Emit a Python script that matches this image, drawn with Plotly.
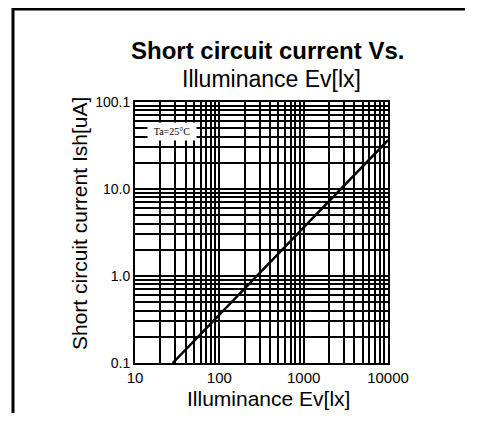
import plotly.graph_objects as go

# Data
illuminance = [28, 100, 1000, 10000]
current = [0.1, 0.36, 3.6, 36.5]

x_tick_vals = [10, 100, 1000, 10000]
x_tick_text = ["10", "100", "1000", "10000"]
y_tick_vals = [0.1, 1, 10, 100]
y_tick_text = ["0.1", "1.0", "10.0", "100.1"]

OFF = 8  # page body margin
W, H = 479 - 2 * OFF, 426 - 2 * OFF - 5
# plot area in reference (page) pixels
PL, PR, PT, PB = 135, 388, 102, 363
L, R, T, B = PL - OFF, W - (PR - OFF), PT - OFF, H - (PB - OFF)
pw, ph = PR - PL, PB - PT

def px(x):
    return (x - PL) / pw

def py(y):
    return (PB - y) / ph

fig = go.Figure()
fig.add_trace(go.Scatter(x=illuminance, y=current, mode="lines",
                         line=dict(color="black", width=2.5), showlegend=False))

fig.update_xaxes(type="log", range=[1, 4], tickvals=x_tick_vals, ticktext=x_tick_text,
                 showgrid=True, gridcolor="black", gridwidth=2,
                 minor=dict(showgrid=True, gridcolor="black", gridwidth=2, dtick="D1", ticks=""),
                 showline=True, linecolor="black", linewidth=2, mirror=True,
                 ticks="", ticklabelstandoff=0, tickfont=dict(size=15, color="black"),
                 zeroline=False)
fig.update_yaxes(type="log", range=[-1, 2], tickvals=y_tick_vals, ticktext=y_tick_text,
                 showgrid=True, gridcolor="black", gridwidth=2,
                 minor=dict(showgrid=True, gridcolor="black", gridwidth=2, dtick="D1", ticks=""),
                 showline=True, linecolor="black", linewidth=2, mirror=True,
                 ticks="", ticklabelstandoff=0, tickfont=dict(size=14, color="black"),
                 zeroline=False)

def note(x, y, text, size, angle=0, family=None, **kw):
    f = dict(size=size, color="black")
    if family:
        f["family"] = family
    fig.add_annotation(xref="paper", yref="paper", x=px(x), y=py(y), text=text,
                       showarrow=False, xanchor="center", yanchor="middle",
                       textangle=angle, font=f, **kw)

note(172, 131, "Ta=25°C", 10, family="Liberation Serif, Times New Roman, serif",
     bgcolor="white", width=46, height=15)

# titles
note(267, 50, "<b>Short circuit current Vs.</b>", 24)
note(271, 79, "Illuminance Ev[lx]", 23)
note(268, 398, "Illuminance Ev[lx]", 21)
note(79, 224, "Short circuit current Ish[uA]", 21, angle=-90)

# outer frame (kept inside the figure)
fig.add_shape(type="line", xref="paper", yref="paper", x0=px(13), x1=px(13), y0=py(8), y1=py(8 + H),
              line=dict(color="black", width=3))
fig.add_shape(type="line", xref="paper", yref="paper", x0=px(12), x1=px(465), y0=py(9), y1=py(9),
              line=dict(color="black", width=3))

fig.update_layout(width=W, height=H, margin=dict(l=L, r=R, t=T, b=B),
                  paper_bgcolor="white", plot_bgcolor="white",
                  font=dict(family="Liberation Sans, Arial, sans-serif", color="black"))

fig.write_html("out.html")
